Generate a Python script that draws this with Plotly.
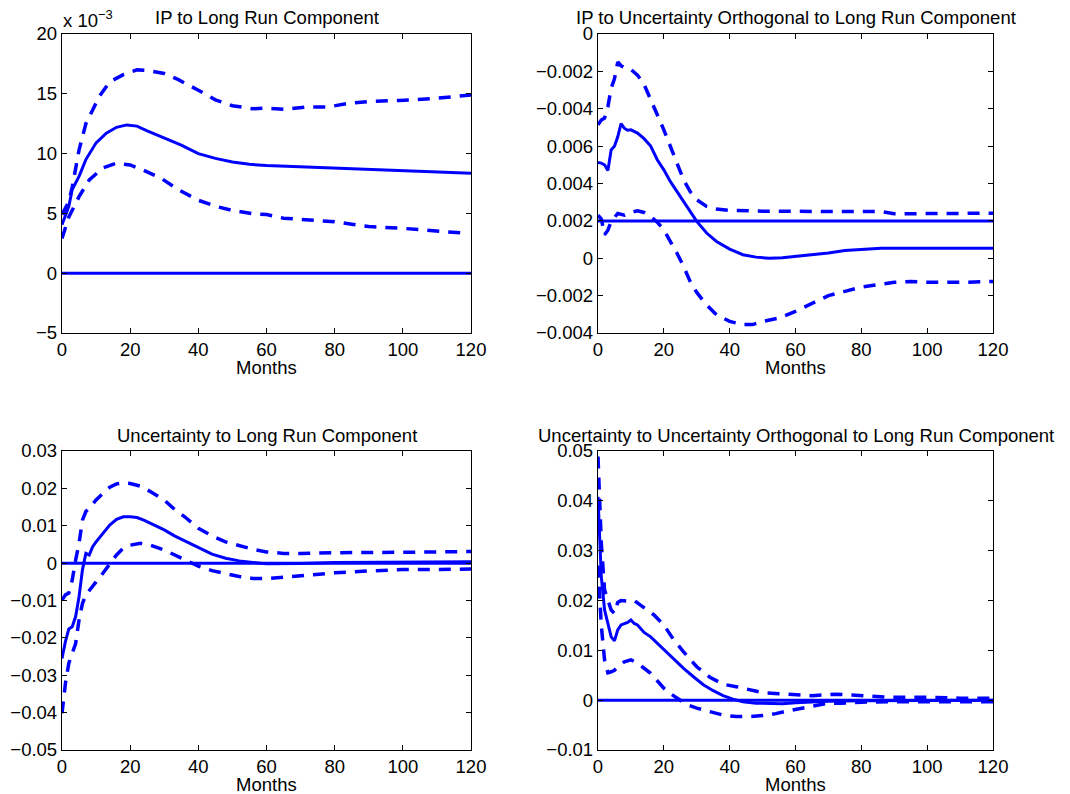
import plotly.graph_objects as go

# ---------------- data ----------------
# Panel 1: IP to Long Run Component (values in units of 1e-3)
p1_mid_x = [0, 2, 3, 5, 7, 10, 13, 16, 19, 22, 25, 30, 35, 40, 45, 50, 55, 60, 70, 80, 90, 100, 110, 120]
p1_mid_y = [4.05, 5.6, 7.0, 8.1, 9.5, 10.9, 11.7, 12.2, 12.4, 12.3, 11.9, 11.3, 10.7, 10.0, 9.6, 9.3, 9.1, 9.0, 8.9, 8.8, 8.7, 8.6, 8.45, 8.35]
p1_up_x = [0, 2, 3, 5, 7, 11, 14, 18, 22, 25, 30, 34, 40, 45, 50, 56, 60, 65, 72, 78, 84, 90, 99, 109, 120]
p1_up_y = [4.9, 6.0, 7.2, 10.3, 12.5, 14.8, 16.0, 16.6, 17.0, 16.95, 16.7, 16.2, 15.3, 14.5, 14.0, 13.75, 13.8, 13.7, 13.9, 13.9, 14.2, 14.35, 14.45, 14.6, 14.9]
p1_lo_x = [0, 2, 5, 8, 12, 16, 20, 24, 29, 34, 40, 45, 50, 56, 60, 65, 70, 80, 85, 90, 100, 110, 118]
p1_lo_y = [2.9, 4.7, 6.4, 7.8, 8.8, 9.2, 9.05, 8.6, 7.95, 7.0, 6.1, 5.6, 5.25, 4.97, 4.9, 4.6, 4.5, 4.3, 4.1, 3.9, 3.75, 3.5, 3.35]
p1_zero_x = [0, 120]
p1_zero_y = [0, 0]

# Panel 2: IP to Uncertainty Orthogonal to Long Run Component (axis position units of 1e-3)
p2_mid_x = [0, 1, 2, 3, 4, 5, 6, 7, 8, 9, 10, 12, 14, 16, 18, 20, 22, 25, 28, 30, 33, 36, 40, 44, 48, 52, 56, 60, 65, 70, 75, 80, 86, 120]
p2_mid_y = [5.12, 5.09, 5.0, 4.7, 5.8, 6.0, 6.5, 7.2, 6.96, 6.85, 6.87, 6.7, 6.4, 6.0, 5.27, 4.73, 4.1, 3.3, 2.5, 1.97, 1.35, 0.9, 0.49, 0.19, 0.06, 0.0, 0.03, 0.1, 0.19, 0.28, 0.42, 0.47, 0.54, 0.54]
p2_up_x = [0, 1, 2, 3, 4, 5, 6, 7, 8, 9, 10, 12, 14, 16, 18, 20, 22, 24, 26, 28, 30, 33, 36, 40, 50, 70, 86, 90, 120]
p2_up_y = [7.14, 7.4, 7.5, 8.1, 9.1, 9.6, 10.5, 10.3, 10.2, 10.1, 10.1, 9.8, 9.3, 8.5, 7.76, 6.87, 5.98, 5.1, 4.2, 3.57, 3.13, 2.77, 2.63, 2.56, 2.52, 2.5, 2.5, 2.38, 2.41]
p2_lo_x = [0, 1, 2, 3, 4, 6, 8, 10, 12, 14, 16, 18, 20, 22, 24, 26, 28, 30, 33, 36, 40, 44, 47, 50, 55, 60, 65, 70, 75, 80, 85, 90, 95, 100, 110, 120]
p2_lo_y = [2.3, 2.1, 1.26, 1.5, 1.96, 2.4, 2.3, 2.45, 2.54, 2.45, 2.24, 1.93, 1.52, 0.9, 0.27, -0.44, -1.24, -1.83, -2.5, -3.02, -3.38, -3.55, -3.55, -3.38, -3.2, -2.84, -2.43, -2.0, -1.77, -1.54, -1.42, -1.29, -1.24, -1.29, -1.29, -1.24]
p2_ref_x = [0, 120]
p2_ref_y = [2, 2]
p2_tickvals = [-4, -2, 0, 2, 4, 6, 8, 10, 12]
p2_ticktext = ["\u22120.004", "\u22120.002", "0", "0.002", "0.004", "0.006", "\u22120.004", "\u22120.002", "0"]

# Panel 3: Uncertainty to Long Run Component
p3_mid_x = [0, 1, 2, 3, 4, 5, 6, 7, 8, 9, 10, 12, 14, 16, 18, 20, 22, 24, 27, 30, 33, 36, 40, 44, 48, 52, 56, 60, 70, 80, 120]
p3_mid_y = [-0.0255, -0.021, -0.0176, -0.017, -0.0143, -0.009, -0.0018, 0.0026, 0.0022, 0.0044, 0.0057, 0.008, 0.0102, 0.0117, 0.0124, 0.0124, 0.0122, 0.0115, 0.0102, 0.0089, 0.0073, 0.006, 0.0042, 0.0024, 0.0013, 0.0006, 0.0002, -0.0002, -0.0001, 0.0002, 0.0004]
p3_up_x = [0, 1, 2, 3, 4, 5, 6, 7, 8, 10, 12, 14, 16, 18, 20, 23, 26, 30, 33, 36, 40, 44, 48, 52, 56, 60, 65, 70, 80, 100, 120]
p3_up_y = [-0.0099, -0.0085, -0.008, -0.0045, 0.0008, 0.0053, 0.0115, 0.0138, 0.0147, 0.0169, 0.0187, 0.0203, 0.0212, 0.0215, 0.0213, 0.0206, 0.0191, 0.0169, 0.0144, 0.0124, 0.0093, 0.0073, 0.0057, 0.0046, 0.0037, 0.003, 0.0026, 0.0026, 0.0028, 0.0029, 0.0031]
p3_lo_x = [0, 1, 2, 3, 4, 5, 6, 7, 8, 10, 12, 14, 16, 18, 20, 23, 26, 30, 33, 36, 40, 44, 48, 52, 56, 60, 65, 70, 75, 80, 90, 100, 110, 120]
p3_lo_y = [-0.0402, -0.0322, -0.0268, -0.0241, -0.0215, -0.0152, -0.0108, -0.0085, -0.0072, -0.005, -0.0027, -0.0001, 0.0022, 0.004, 0.0048, 0.0053, 0.0048, 0.0035, 0.0022, 0.0008, -0.0008, -0.002, -0.0028, -0.0036, -0.0041, -0.0041, -0.0038, -0.0034, -0.003, -0.0026, -0.0021, -0.0017, -0.0017, -0.0016]
p3_zero_x = [0, 120]
p3_zero_y = [0, 0]

# Panel 4: Uncertainty to Uncertainty Orthogonal to Long Run Component
p4_mid_x = [0, 1, 2, 3, 4, 5, 6, 7, 8, 9, 10, 11, 12, 14, 16, 18, 20, 23, 26, 29, 32, 35, 38, 41, 44, 48, 52, 56, 60, 65, 70, 80, 120]
p4_mid_y = [0.0408, 0.0248, 0.0181, 0.0151, 0.0127, 0.0119, 0.0141, 0.0151, 0.0154, 0.0156, 0.0161, 0.0154, 0.0151, 0.0136, 0.0127, 0.0114, 0.0101, 0.0082, 0.0064, 0.0047, 0.0031, 0.0019, 0.0009, 0.0002, -0.0003, -0.0006, -0.0007, -0.0007, -0.0005, -0.0003, -0.0002, -0.0001, 0.0]
p4_up_x = [0, 1, 2, 3, 4, 5, 6, 7, 9, 11, 13, 15, 17, 20, 23, 26, 30, 34, 38, 42, 46, 50, 55, 60, 65, 72, 80, 88, 95, 100, 110, 120]
p4_up_y = [0.0489, 0.0315, 0.0221, 0.0201, 0.0181, 0.0174, 0.0196, 0.02, 0.0199, 0.02, 0.0191, 0.0181, 0.0171, 0.0151, 0.0121, 0.0097, 0.0067, 0.0046, 0.0032, 0.0027, 0.0021, 0.0015, 0.0013, 0.0011, 0.0009, 0.0012, 0.0009, 0.0006, 0.0006, 0.0006, 0.0004, 0.0004]
p4_lo_x = [0, 1, 2, 3, 4, 5, 6, 8, 10, 12, 14, 16, 18, 20, 22, 24, 27, 30, 34, 38, 42, 46, 50, 54, 58, 62, 66, 70, 74, 80, 90, 100, 110, 120]
p4_lo_y = [0.027, 0.015, 0.008, 0.0055, 0.0057, 0.006, 0.0067, 0.0077, 0.0081, 0.0074, 0.0064, 0.0054, 0.0039, 0.0024, 0.0013, 0.0004, -0.0009, -0.0016, -0.0023, -0.003, -0.0033, -0.0033, -0.0031, -0.0027, -0.0021, -0.0016, -0.0011, -0.0006, -0.0006, -0.0004, -0.0003, -0.0003, -0.0003, -0.0003]
p4_zero_x = [0, 120]
p4_zero_y = [0, 0]

titles = ["IP to Long Run Component",
          "IP to Uncertainty Orthogonal to Long Run Component",
          "Uncertainty to Long Run Component",
          "Uncertainty to Uncertainty Orthogonal to Long Run Component"]
x_ticks = [0, 20, 40, 60, 80, 100, 120]
xlabel = "Months"

# ---------------- figure ----------------
OFF = 8                      # page body margin
W, H = 1070 - OFF, 794 - OFF
BLUE = "#0000ff"
FONT = "Liberation Sans, Arial, sans-serif"
FS = 18.5

fig = go.Figure()

def px_x(p):
    return (p - OFF) / W

def px_y(p):
    return 1 - (p - OFF) / H

panels = [
    dict(x=(62, 471), y=(34, 333)),
    dict(x=(598, 993), y=(34, 333)),
    dict(x=(62, 471), y=(451, 750)),
    dict(x=(598, 993), y=(451, 750)),
]

series = [
    [(p1_up_x, p1_up_y, "dash"), (p1_lo_x, p1_lo_y, "dash"), (p1_mid_x, p1_mid_y, "solid"), (p1_zero_x, p1_zero_y, "solid")],
    [(p2_up_x, p2_up_y, "dash"), (p2_lo_x, p2_lo_y, "dash"), (p2_mid_x, p2_mid_y, "solid"), (p2_ref_x, p2_ref_y, "solid")],
    [(p3_up_x, p3_up_y, "dash"), (p3_lo_x, p3_lo_y, "dash"), (p3_mid_x, p3_mid_y, "solid"), (p3_zero_x, p3_zero_y, "solid")],
    [(p4_up_x, p4_up_y, "dash"), (p4_lo_x, p4_lo_y, "dash"), (p4_mid_x, p4_mid_y, "solid"), (p4_zero_x, p4_zero_y, "solid")],
]

yaxes_cfg = [
    dict(range=[-5, 20], tickvals=[-5, 0, 5, 10, 15, 20], ticktext=["\u22125", "0", "5", "10", "15", "20"]),
    dict(range=[-4, 12], tickvals=p2_tickvals, ticktext=p2_ticktext),
    dict(range=[-0.05, 0.03], tickvals=[-0.05, -0.04, -0.03, -0.02, -0.01, 0, 0.01, 0.02, 0.03],
         ticktext=["\u22120.05", "\u22120.04", "\u22120.03", "\u22120.02", "\u22120.01", "0", "0.01", "0.02", "0.03"]),
    dict(range=[-0.01, 0.05], tickvals=[-0.01, 0, 0.01, 0.02, 0.03, 0.04, 0.05],
         ticktext=["\u22120.01", "0", "0.01", "0.02", "0.03", "0.04", "0.05"]),
]

axis_common = dict(showline=True, linecolor="black", linewidth=1.3, mirror="ticks",
                   ticks="inside", ticklen=5, tickwidth=1, tickcolor="black",
                   showgrid=False, zeroline=False, automargin=False,
                   tickfont=dict(family=FONT, size=FS, color="black"))

layout_axes = {}
annotations = []
for i, (pan, ser, ycfg, title) in enumerate(zip(panels, series, yaxes_cfg, titles)):
    n = i + 1
    xa = "x" if n == 1 else f"x{n}"
    ya = "y" if n == 1 else f"y{n}"
    for xs, ys, style in ser:
        if style == "dash":
            line = dict(color=BLUE, width=3.5, dash="12px,9px")
        else:
            line = dict(color=BLUE, width=3, dash="solid")
        fig.add_trace(go.Scatter(x=xs, y=ys, mode="lines", xaxis=xa, yaxis=ya, line=line,
                                 showlegend=False, hoverinfo="skip"))
    xd = [px_x(pan["x"][0]), px_x(pan["x"][1])]
    yd = [px_y(pan["y"][1]), px_y(pan["y"][0])]
    xkey = "xaxis" if n == 1 else f"xaxis{n}"
    ykey = "yaxis" if n == 1 else f"yaxis{n}"
    layout_axes[xkey] = dict(domain=xd, range=[0, 120], tickvals=x_ticks, anchor=ya, **axis_common)
    layout_axes[ykey] = dict(domain=yd, anchor=xa, **ycfg, **axis_common)
    cx = (pan["x"][0] + pan["x"][1]) / 2
    annotations.append(dict(text=title, x=px_x(cx), y=px_y(pan["y"][0] - 16), xref="paper", yref="paper",
                            xanchor="center", yanchor="middle", showarrow=False,
                            font=dict(family=FONT, size=FS, color="black")))
    annotations.append(dict(text=xlabel, x=px_x(cx), y=px_y(pan["y"][1] + 34), xref="paper", yref="paper",
                            xanchor="center", yanchor="middle", showarrow=False,
                            font=dict(family=FONT, size=FS, color="black")))

annotations.append(dict(text="x 10<sup>\u22123</sup>", x=px_x(61), y=px_y(19), xref="paper", yref="paper",
                        xanchor="left", yanchor="middle", showarrow=False,
                        font=dict(family=FONT, size=FS, color="black")))

fig.update_layout(width=W, height=H, margin=dict(l=0, r=0, t=0, b=0),
                  paper_bgcolor="white", plot_bgcolor="white",
                  annotations=annotations, **layout_axes)

fig.write_html("out.html")
